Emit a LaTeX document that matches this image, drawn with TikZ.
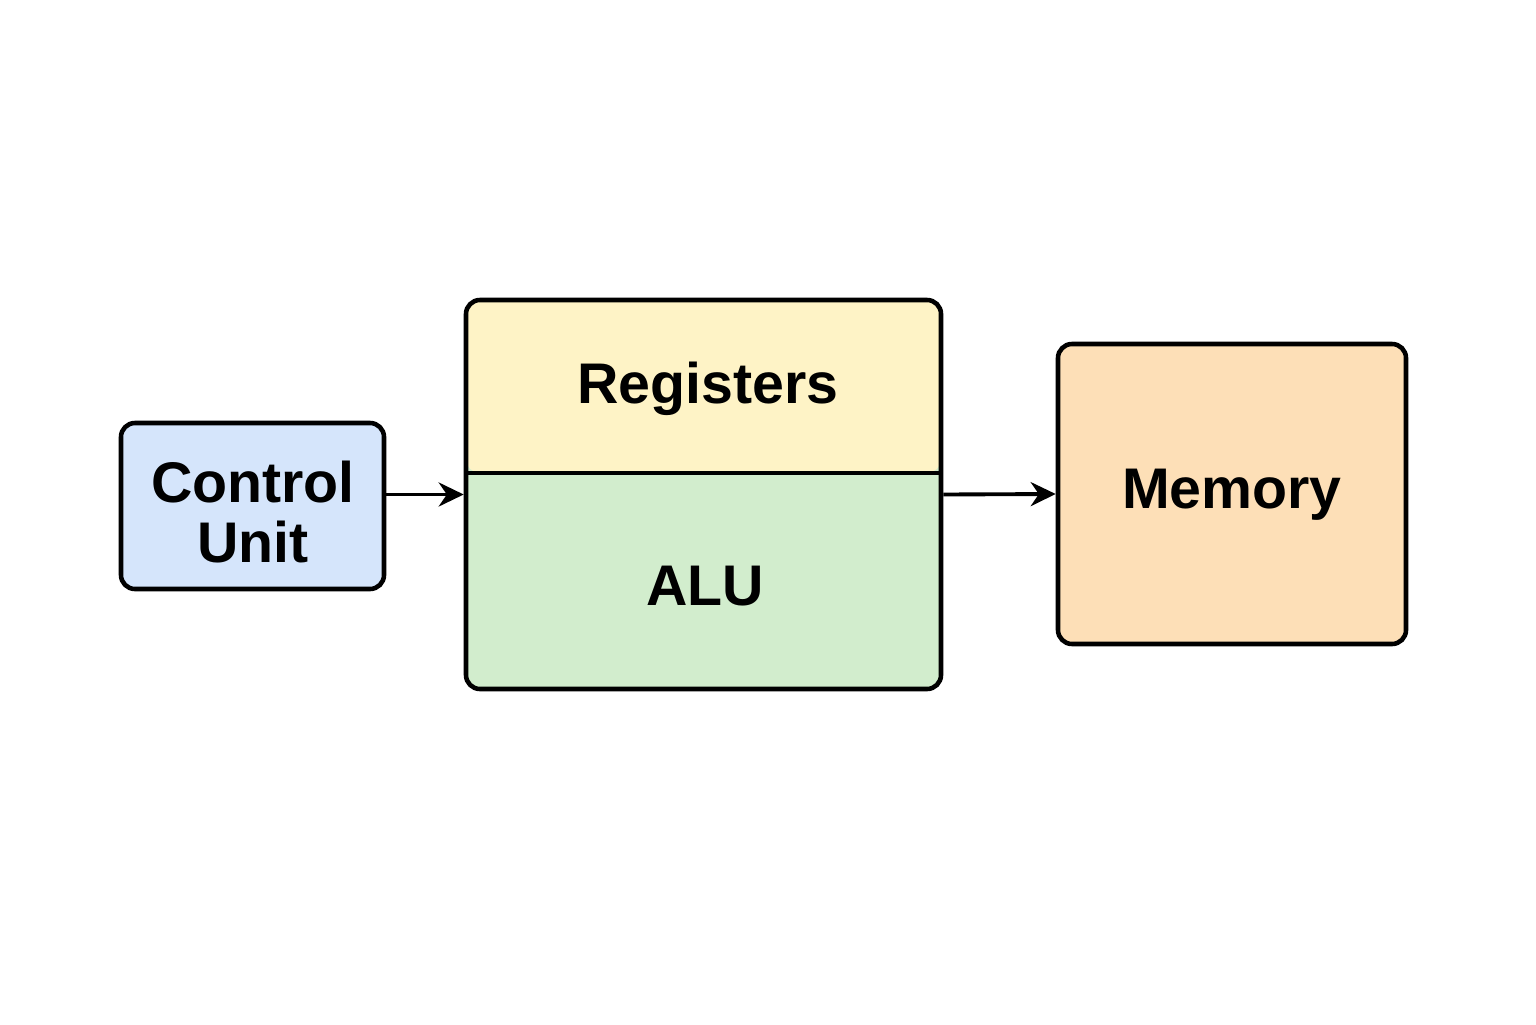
\documentclass[tikz,border=0pt]{standalone}
\usepackage{fontspec}
\setmainfont{Liberation Sans}
\usetikzlibrary{arrows.meta}
\definecolor{cublue}{HTML}{D5E5FB}
\definecolor{regyellow}{HTML}{FEF3C6}
\definecolor{alugreen}{HTML}{D2EDCD}
\definecolor{mempeach}{HTML}{FDDFB7}
\begin{document}
\begin{tikzpicture}[font=\bfseries\fontsize{16.3}{17}\selectfont,
		box/.style={draw,line width=1.3pt,rounded corners=0.14cm,inner sep=0pt},
		lbl/.style={align=center,inner sep=0pt},
		conn/.style={line width=1.1pt,-{Stealth[length=0.25cm,width=0.24cm]}}]
				\useasboundingbox (0,0) rectangle (15.36,10.24);
				\node[box,fill=cublue,minimum width=2.63cm,minimum height=1.66cm] (cu) at (2.525,5.18) {};
				\node[box,fill=alugreen,minimum width=4.75cm,minimum height=3.89cm,
					path picture={\fill[regyellow] (path picture bounding box.north west) rectangle ([yshift=0.215cm]path picture bounding box.east);
						\draw[line width=1.3pt] ([yshift=0.215cm]path picture bounding box.west) -- ([yshift=0.215cm]path picture bounding box.east);}] (cpu) at (7.035,5.295) {};
				\node[box,fill=mempeach,minimum width=3.48cm,minimum height=3.00cm] (mem) at (12.32,5.30) {};
				\node[lbl] (cutxt) at (2.53,5.12) {Control\\Unit};
				\node[lbl] (regs) at (7.08,6.35) {Registers};
				\node[lbl] (alu) at (7.05,4.38) {ALU};
				\node[lbl] (memtxt) at (12.32,5.29) {Memory};
				\draw[conn] (cu.east |- cpu.west) -- (cpu.west);
				\draw[conn] (cpu.east) -- (mem.west);
			\end{tikzpicture}
\end{document}
